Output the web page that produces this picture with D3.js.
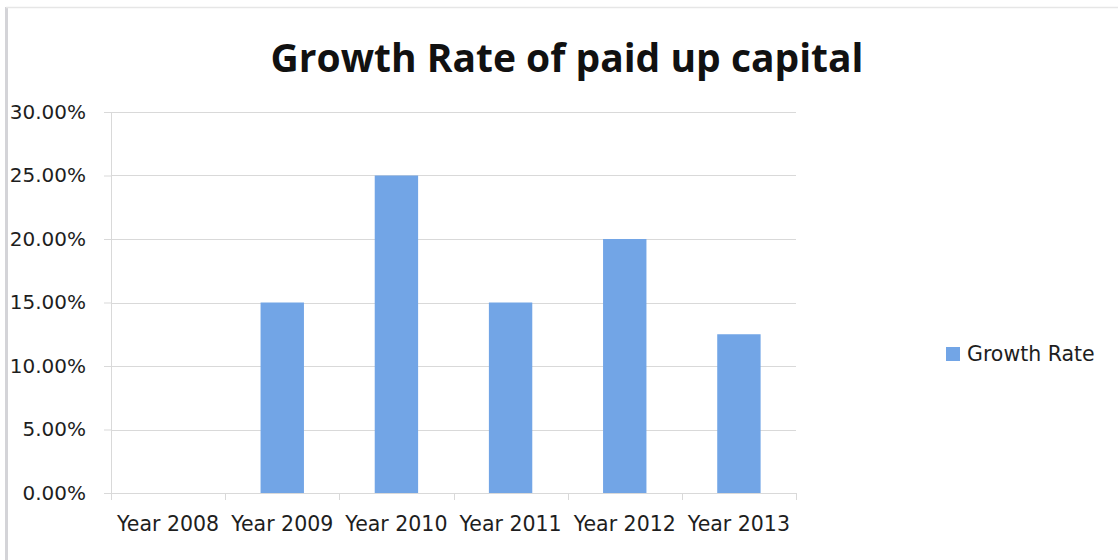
<!DOCTYPE html>
<html>
<head>
<meta charset="utf-8">
<script src="https://cdn.jsdelivr.net/npm/d3@7/dist/d3.min.js"></script>
<style>
  html, body { margin: 0; padding: 0; background: #ffffff; }
  svg { display: block; }
</style>
</head>
<body>
<svg id="chart" width="1118" height="560"></svg>
<script>
// Growth rate of paid up capital, by year
const categories = ["Year 2008", "Year 2009", "Year 2010", "Year 2011", "Year 2012", "Year 2013"];
const growthRate = [0, 0.15, 0.25, 0.15, 0.20, 0.125];
const yTicks = [0, 0.05, 0.10, 0.15, 0.20, 0.25, 0.30];
const seriesName = "Growth Rate";
const title = "Growth Rate of paid up capital";

const svg = d3.select("#chart");
const W = 1118, H = 560;
const margin = { left: 111, right: 322, top: 112, bottom: 67 };
const plotW = W - margin.left - margin.right;
const plotH = H - margin.top - margin.bottom;

const barColor = "#72a5e6";
const gridColor = "#d9d9d9";
const labelFont = "'DejaVu Sans', sans-serif";
const titleFont = "'Open Sans', 'DejaVu Sans', sans-serif";
const textColor = "#1e1e1e";

// outer frame of the chart area
svg.append("line").attr("x1", 6.5).attr("x2", 6.5).attr("y1", 7).attr("y2", H)
  .attr("stroke", "#d4d4d8").attr("stroke-width", 3);
svg.append("line").attr("x1", 6).attr("x2", W).attr("y1", 7.5).attr("y2", 7.5)
  .attr("stroke", "#e6e6e6").attr("stroke-width", 1.5);

const g = svg.append("g").attr("transform", `translate(${margin.left},${margin.top})`);

const x = d3.scaleBand().domain(categories).range([0, plotW]).paddingInner(0.62).paddingOuter(0.31);
const xb = d3.scaleBand().domain(categories).range([0, plotW]);
const y = d3.scaleLinear().domain([0, 0.30]).range([plotH, 0]);

// horizontal gridlines
g.append("g").selectAll("line").data(yTicks.filter(d => d > 0)).join("line")
  .attr("x1", 0).attr("x2", plotW)
  .attr("y1", d => Math.round(y(d)) + 0.5).attr("y2", d => Math.round(y(d)) + 0.5)
  .attr("stroke", gridColor).attr("stroke-width", 1);

// y axis
const yAxis = d3.axisLeft(y).tickValues(yTicks).tickFormat(d3.format(".2%")).tickSize(7).tickPadding(18);
const ya = g.append("g").call(yAxis);
ya.select(".domain").attr("stroke", gridColor);
ya.selectAll(".tick line").attr("stroke", gridColor);
ya.selectAll("text").attr("font-family", labelFont).attr("font-size", 20).attr("fill", textColor);

// bars
g.append("g").selectAll("rect").data(categories).join("rect")
  .attr("x", (d) => x(d))
  .attr("width", x.bandwidth())
  .attr("y", (d, i) => y(growthRate[i]))
  .attr("height", (d, i) => plotH - y(growthRate[i]))
  .attr("fill", barColor);

// x axis with ticks at category boundaries
const xa = g.append("g").attr("transform", `translate(0,${plotH})`);
xa.append("line").attr("x1", 0).attr("x2", plotW).attr("y1", 0.5).attr("y2", 0.5).attr("stroke", gridColor);
const bounds = categories.map(c => xb(c)).concat([plotW]);
xa.selectAll("line.tk").data(bounds).join("line").attr("class", "tk")
  .attr("x1", d => Math.round(d) + 0.5).attr("x2", d => Math.round(d) + 0.5)
  .attr("y1", 0).attr("y2", 7).attr("stroke", gridColor);
xa.selectAll("text").data(categories).join("text")
  .attr("x", d => xb(d) + xb.bandwidth() / 2)
  .attr("y", 38)
  .attr("text-anchor", "middle")
  .attr("font-family", labelFont).attr("font-size", 20.5).attr("fill", textColor)
  .text(d => d);

// title
svg.append("text").attr("x", 567).attr("y", 72).attr("text-anchor", "middle")
  .attr("font-family", titleFont).attr("font-weight", "bold")
  .attr("font-size", 39).attr("fill", "#111").text(title);

// legend
const lg = svg.append("g").attr("transform", "translate(946,347)");
lg.append("rect").attr("width", 14).attr("height", 14).attr("fill", barColor);
lg.append("text").attr("x", 21).attr("y", 14).attr("font-family", labelFont).attr("font-size", 20.5)
  .attr("fill", textColor).text(seriesName);
</script>
</body>
</html>
